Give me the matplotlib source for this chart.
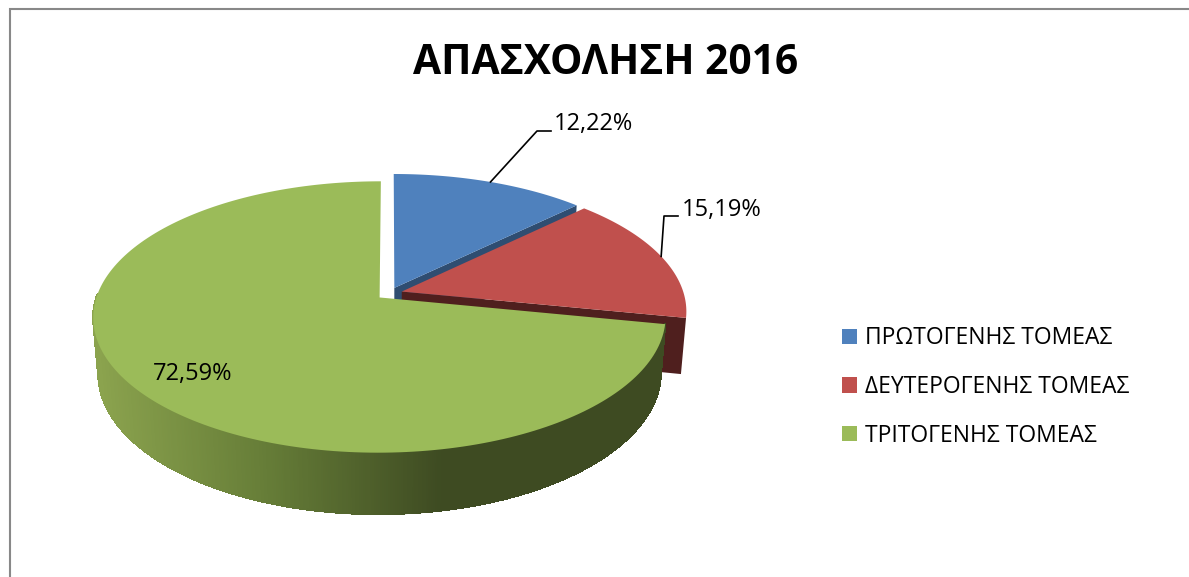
import numpy as np
import matplotlib
matplotlib.use("Agg")
import matplotlib.pyplot as plt
from matplotlib.collections import LineCollection, PolyCollection
from matplotlib.colors import LinearSegmentedColormap
from matplotlib.patches import Patch

# ====================== DATA ======================
TITLE = "ΑΠΑΣΧΟΛΗΣΗ 2016"
SECTORS = ["ΠΡΩΤΟΓΕΝΗΣ ΤΟΜΕΑΣ", "ΔΕΥΤΕΡΟΓΕΝΗΣ ΤΟΜΕΑΣ", "ΤΡΙΤΟΓΕΝΗΣ ΤΟΜΕΑΣ"]
SHARES = [12.22, 15.19, 72.59]
TOP_COLORS = ["#4F81BD", "#C0504D", "#9BBB59"]
CUT_COLORS = ["#2F4D71", "#4F1F1E", "#3E4B22"]
# ==================================================

# pie camera, in pixels of the 1189x577 image
CX, CY = 389.5, 293.5
SCALE = 282.0
TILT = np.radians(27.85)
CAM_DIST = 6.17
EXPLODE = 0.046
DEPTH = 0.225
ANGLE_WARP = np.radians(2.6)  # the original renderer leans the slices a little

plt.rcParams["font.family"] = ["Open Sans", "DejaVu Sans"]


def project(angle, r, z, mid):
    # angle clockwise from 12 o'clock, exploded along the slice middle
    a = angle + ANGLE_WARP * np.sin(angle)
    x = r * np.sin(a) + EXPLODE * np.sin(mid)
    y = r * np.cos(a) + EXPLODE * np.cos(mid)
    up = y * np.sin(TILT) + z * np.cos(TILT)
    dist = CAM_DIST + y * np.cos(TILT) - z * np.sin(TILT)
    return CX + SCALE * CAM_DIST * x / dist, CY - SCALE * CAM_DIST * up / dist


def top_face(start, end, mid):
    t = np.linspace(start, end, 200)
    xs, ys = project(t, 1.0, 0.0, mid)
    ax_, ay_ = project(0.0, 0.0, 0.0, mid)
    return np.column_stack([np.r_[ax_, xs], np.r_[ay_, ys]])


def cut_face(angle, mid):
    pts = [project(angle, 0.0, 0.0, mid), project(angle, 1.0, 0.0, mid),
           project(angle, 1.0, -DEPTH, mid), project(angle, 0.0, -DEPTH, mid)]
    return np.array(pts)


fig = plt.figure(figsize=(11.89, 5.77), dpi=100)
ax = fig.add_axes([0, 0, 1, 1])
ax.set_xlim(0, 1189)
ax.set_ylim(577, 0)
ax.axis("off")

# chart frame, cropped on the right and at the bottom
ax.plot([10, 10, 1189], [577, 9, 9], color="#888888", lw=1.5, solid_joinstyle="miter")

fracs = np.array(SHARES) / sum(SHARES)
edges = np.r_[0, np.cumsum(fracs)] * 2 * np.pi
mids = (edges[:-1] + edges[1:]) / 2

# blue
ax.fill(*cut_face(edges[1], mids[0]).T, color=CUT_COLORS[0], lw=0)
ax.fill(*top_face(edges[0], edges[1], mids[0]).T, color=TOP_COLORS[0], lw=0)

# red
ax.fill(*cut_face(edges[2], mids[1]).T, color=CUT_COLORS[1], lw=0)
ax.fill(*top_face(edges[1], edges[2], mids[1]).T, color=TOP_COLORS[1], lw=0)

# green rim, shaded left to right; only the near part of it can be seen
t = np.linspace(edges[2], np.radians(274), 500)
xt, yt = project(t, 1.0, 0.0, mids[2])
xb, yb = project(t, 1.0, -DEPTH, mids[2])
quads = [[(xt[i], yt[i]), (xt[i + 1], yt[i + 1]), (xb[i + 1], yb[i + 1]), (xb[i], yb[i])]
         for i in range(len(t) - 1)]
shade = LinearSegmentedColormap.from_list("rim", ["#8BA34E", "#657C37", "#3E4B22", "#3E4B22"])
rim_colors = shade(np.clip((xt[:-1] - 95) / 520, 0, 1))
ax.add_collection(PolyCollection(quads, facecolors=rim_colors, edgecolors=rim_colors,
                                 linewidths=0.8, antialiaseds=False, zorder=1))
rim_edge = np.column_stack([xb, yb])
ax.add_collection(LineCollection(np.stack([rim_edge[:-1], rim_edge[1:]], axis=1),
                                 colors=rim_colors, linewidths=1.0, zorder=1))
ax.fill(*top_face(edges[2], edges[3], mids[2]).T, color=TOP_COLORS[2], lw=0, zorder=1)

labels = [f"{v:.2f}%".replace(".", ",") for v in SHARES]

# leader lines start on the middle of each slice's rim
x0, y0 = project(mids[0], 1.0, 0.0, mids[0])
ax.plot([x0, 537, 551], [y0, 131, 131], color="black", lw=1.2)
ax.text(554, 124, labels[0], fontsize=17, va="center", ha="left", color="black")

x1, y1 = project(mids[1], 1.0, 0.0, mids[1])
ax.plot([x1, 664, 678], [y1, 216, 216], color="black", lw=1.2)
ax.text(682, 210, labels[1], fontsize=17, va="center", ha="left", color="black")

ax.text(153, 374, labels[2], fontsize=17, va="center", ha="left", color="black")

ax.text(606, 63, TITLE, fontsize=29.3, fontweight="bold", ha="center", va="center", color="black")

handles = [Patch(facecolor=c, edgecolor="none") for c in TOP_COLORS]
ax.legend(handles, SECTORS, loc="center left", bbox_to_anchor=(842, 387), bbox_transform=ax.transData,
          frameon=False, fontsize=16.5, handlelength=0.655, handleheight=0.655, handletextpad=0.35,
          labelspacing=1.08, borderpad=0, borderaxespad=0)

fig.savefig("out.png", dpi=100)
